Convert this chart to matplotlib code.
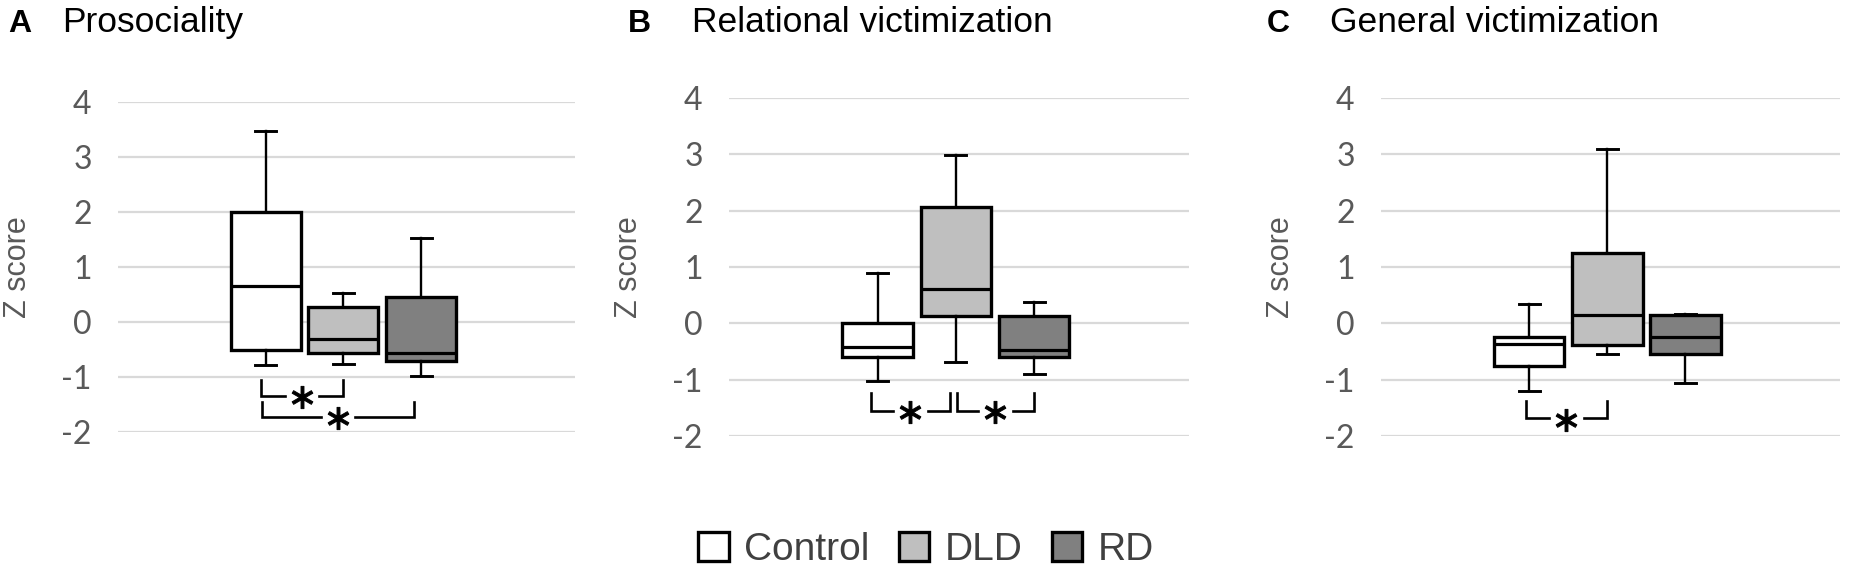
import matplotlib
matplotlib.use("Agg")
import matplotlib.pyplot as plt
from matplotlib.patches import Patch

plt.rcParams["font.family"] = ["Liberation Sans", "DejaVu Sans"]
plt.rcParams["axes.unicode_minus"] = False

# ---- data ----
groups = ["Control", "DLD", "RD"]
group_colors = ["#ffffff", "#bfbfbf", "#808080"]

panel_letters = ["A", "B", "C"]
panel_titles = ["Prosociality", "Relational victimization", "General victimization"]

y_ticks = [-2, -1, 0, 1, 2, 3, 4]
y_ticklabels = ["-2", "-1", "0", "1", "2", "3", "4"]

# per group: whisker low, Q1, median, Q3, whisker high
prosociality = [
    [-0.78, -0.50, 0.66, 2.00, 3.48],
    [-0.77, -0.56, -0.30, 0.28, 0.53],
    [-0.99, -0.71, -0.56, 0.46, 1.52],
]
relational = [
    [-1.03, -0.59, -0.42, 0.00, 0.89],
    [-0.69, 0.13, 0.61, 2.06, 2.98],
    [-0.90, -0.59, -0.48, 0.13, 0.37],
]
general = [
    [-1.20, -0.75, -0.36, -0.24, 0.34],
    [-0.55, -0.38, 0.14, 1.25, 3.10],
    [-1.06, -0.55, -0.24, 0.14, 0.17],
]

# significance brackets: (left x, right x, top of ticks, bracket line)
brackets_A = [(0.94, 1.99, -1.05, -1.34), (0.95, 2.91, -1.45, -1.72)]
brackets_B = [(0.92, 1.92, -1.23, -1.55), (2.01, 3.00, -1.23, -1.55)]
brackets_C = [(0.96, 1.99, -1.38, -1.68)]

panels = [prosociality, relational, general]
panel_brackets = [brackets_A, brackets_B, brackets_C]

# ---- layout (pixels of the 1851x578 canvas) ----
W, H = 1851, 578
axes_px = [(118, 102, 457, 330), (729, 98, 460, 338), (1381, 98, 459, 338)]
letter_x = [8, 628, 1267]
title_x = [62, 692, 1330]

fig = plt.figure(figsize=(W / 100, H / 100), dpi=100)

for k, (stats_rows, brs) in enumerate(zip(panels, panel_brackets)):
    x0, top, w, h = axes_px[k]
    ax = fig.add_axes([x0 / W, (H - top - h) / H, w / W, h / H])

    stats = []
    for name, row in zip(groups, stats_rows):
        lo, q1, med, q3, hi = row
        stats.append(dict(label=name, whislo=lo, q1=q1, med=med, q3=q3, whishi=hi, fliers=[]))

    bp = ax.bxp(stats, positions=[1, 2, 3], widths=0.9, capwidths=0.27,
                patch_artist=True, showfliers=False,
                boxprops=dict(linewidth=2.4, edgecolor="black"),
                medianprops=dict(linewidth=2.3, color="black"),
                whiskerprops=dict(linewidth=1.7, color="black"),
                capprops=dict(linewidth=2.1, color="black"))
    for patch, c in zip(bp["boxes"], group_colors):
        patch.set_facecolor(c)

    for xa, xb, ytop, ybar in brs:
        xm = (xa + xb) / 2
        gap = 0.22
        ax.plot([xa, xa, xm - gap], [ytop, ybar, ybar], color="black", lw=1.9,
                solid_joinstyle="miter", clip_on=False)
        ax.plot([xm + gap, xb, xb], [ybar, ybar, ytop], color="black", lw=1.9,
                solid_joinstyle="miter", clip_on=False)
        ax.plot([xm], [ybar - 0.03], marker=r"$\ast$", markersize=16, color="black",
                markeredgewidth=0.7, clip_on=False)

    ax.set_xlim(-0.9, 4.98)
    ax.set_ylim(-2, 4)
    ax.set_yticks(y_ticks)
    ax.set_yticklabels(y_ticklabels, fontsize=23, color="#595959", family=["Lato", "DejaVu Sans"])
    ax.set_xticks([])
    ax.tick_params(axis="y", length=0, pad=19)
    ax.grid(axis="y", color="#d9d9d9", linewidth=1.6)
    ax.set_axisbelow(True)
    for s in ax.spines.values():
        s.set_visible(False)

    ax.set_ylabel("Z score", fontsize=22, color="#595959", va="center")
    ax.yaxis.set_label_coords(-100 / w, 0.5)

    fig.text(letter_x[k] / W, 1 - 32 / H, panel_letters[k], fontsize=23,
             fontweight="bold", va="baseline", ha="left")
    fig.text(title_x[k] / W, 1 - 32 / H, panel_titles[k], fontsize=25.5,
             va="baseline", ha="left")

handles = [Patch(facecolor=c, edgecolor="black", linewidth=2.4) for c in group_colors]
fig.legend(handles, groups, loc="center", bbox_to_anchor=(926 / W, 28 / H), ncol=3,
           frameon=False, fontsize=28, labelcolor="#404040", handlelength=0.78,
           handleheight=0.78, handletextpad=0.4, columnspacing=0.75)

fig.savefig("out.png", dpi=100)
